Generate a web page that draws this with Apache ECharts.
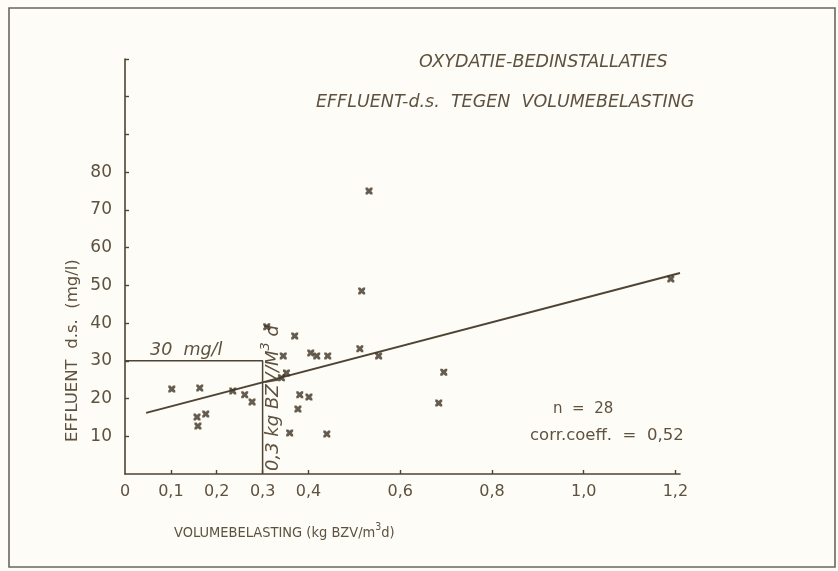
<!DOCTYPE html>
<html>
<head>
<meta charset="utf-8">
<script src="https://cdn.jsdelivr.net/npm/echarts@6/dist/echarts.min.js"></script>
<style>
  html, body { margin: 0; padding: 0; background: #fdfcf6; }
  #chart { width: 838px; height: 571px; }
</style>
</head>
<body>
<div id="chart"></div>
<script>
// Volumebelasting (kg BZV/m3 d) versus effluent d.s. (mg/l), 28 installations
const loadValues = [0.102, 0.163, 0.235, 0.261, 0.277, 0.157, 0.176, 0.159,
  0.370, 0.345, 0.405, 0.418, 0.442, 0.512, 0.553, 0.352, 0.341, 0.381,
  0.401, 0.377, 0.359, 0.440, 0.309, 0.532, 0.516, 0.695, 0.684, 1.190];
const effluentValues = [22.5, 22.8, 22.0, 21.0, 19.1, 15.1, 15.9, 12.7,
  36.6, 31.3, 32.1, 31.3, 31.3, 33.2, 31.3, 26.8, 25.5, 21.0,
  20.4, 17.2, 10.9, 10.6, 39.0, 75.0, 48.5, 27.0, 18.8, 51.7];

// regression line end points
const fitLine = [[0.046, 16.2], [1.21, 53.3]];
// 30 mg/l limit box up to 0,3 kg BZV/m3 d
const limitBox = [[0, 30], [0.3, 30], [0.3, 0]];

const xTickValues = [0, 0.1, 0.2, 0.3, 0.4, 0.6, 0.8, 1.0, 1.2];
const yTickValues = [10, 20, 30, 40, 50, 60, 70, 80, 90, 100, 110];
const yLabelValues = [10, 20, 30, 40, 50, 60, 70, 80];

const ink = '#4f4334';
const textInk = '#5e5140';
const font = 'DejaVu Sans';
const condensed = 'DejaVu Sans Condensed, DejaVu Sans';

const points = loadValues.map((x, i) => [x, effluentValues[i]]);

const chart = echarts.init(document.getElementById('chart'), null, { renderer: 'canvas' });

chart.setOption({
  backgroundColor: '#fdfcf6',
  animation: false,
  title: [
    {
      text: 'OXYDATIE-BEDINSTALLATIES',
      left: 414, top: 48,
      textStyle: { fontFamily: font, fontStyle: 'italic', fontWeight: 'normal', fontSize: 17.5, color: textInk }
    },
    {
      text: 'EFFLUENT-d.s.  TEGEN  VOLUMEBELASTING',
      left: 311, top: 88,
      textStyle: { fontFamily: font, fontStyle: 'italic', fontWeight: 'normal', fontSize: 17.5, color: textInk }
    }
  ],
  grid: { left: 125, right: 158, top: 59, bottom: 97 },
  xAxis: {
    type: 'value',
    min: 0, max: 1.21,
    axisLine: { show: true, lineStyle: { color: ink, width: 1.6 } },
    axisTick: { show: true, inside: true, length: 4, customValues: xTickValues.slice(1),
      lineStyle: { color: ink, width: 1.4 } },
    axisLabel: {
      customValues: xTickValues,
      margin: 10,
      fontFamily: font, fontSize: 16, color: textInk,
      formatter: v => (v === 0 ? '0' : v.toFixed(1).replace('.', ','))
    },
    splitLine: { show: false }
  },
  yAxis: {
    type: 'value',
    min: 0, max: 110,
    axisLine: { show: true, lineStyle: { color: ink, width: 1.6 } },
    axisTick: { show: true, inside: true, length: 4, customValues: yTickValues,
      lineStyle: { color: ink, width: 1.4 } },
    axisLabel: {
      customValues: yLabelValues,
      margin: 13,
      fontFamily: font, fontSize: 17, color: textInk
    },
    splitLine: { show: false }
  },
  graphic: [
    {
      type: 'rect',
      shape: { x: 9, y: 8, width: 826, height: 559 },
      style: { fill: null, stroke: '#6a6660', lineWidth: 1.6 },
      silent: true
    },
    {
      type: 'text', x: 64, y: 442, rotation: Math.PI / 2,
      style: { text: 'EFFLUENT  d.s.  (mg/l)', fontFamily: font, fontSize: 16.5, fill: textInk }
    },
    {
      type: 'text', left: 174, top: 522,
      style: {
        text: '{a|VOLUMEBELASTING (kg BZV/m}{s|3}{a|d)}',
        rich: {
          a: { fontFamily: condensed, fontSize: 14.5, fill: textInk, verticalAlign: 'bottom' },
          s: { fontFamily: condensed, fontSize: 10.5, fill: textInk, padding: [0, 0, 8, 0], verticalAlign: 'bottom' }
        }
      }
    },
    {
      type: 'text', left: 553, top: 402,
      style: { text: 'n  =  28', fontFamily: font, fontSize: 15, fill: textInk }
    },
    {
      type: 'text', left: 530, top: 427,
      style: { text: 'corr.coeff.  =  0,52', fontFamily: font, fontSize: 16.5, fill: textInk }
    },
    {
      type: 'text', left: 150, top: 341,
      style: { text: '30  mg/l', fontFamily: font, fontStyle: 'italic', fontSize: 17.5, fill: textInk }
    },
    {
      type: 'text', x: 259, y: 471, rotation: Math.PI / 2,
      style: {
        text: '{a|0,3 kg BZV/M}{s|3}{a| d}',
        rich: {
          a: { fontFamily: font, fontStyle: 'italic', fontSize: 18, fill: textInk, verticalAlign: 'bottom' },
          s: { fontFamily: font, fontStyle: 'italic', fontSize: 13, fill: textInk, padding: [0, 0, 10, 0], verticalAlign: 'bottom' }
        }
      }
    }
  ],
  series: [
    {
      type: 'line',
      data: limitBox,
      symbol: 'none',
      lineStyle: { color: ink, width: 1.5 },
      silent: true,
      z: 2
    },
    {
      type: 'line',
      data: fitLine,
      symbol: 'none',
      lineStyle: { color: ink, width: 2 },
      silent: true,
      z: 3
    },
    {
      type: 'scatter',
      data: points,
      symbol: 'path://M0,0L3,0L5,2L7,0L10,0L10,3L8,5L10,7L10,10L7,10L5,8L3,10L0,10L0,7L2,5L0,3Z',
      symbolSize: 7,
      itemStyle: { color: '#3f3326' },
      z: 4
    }
  ]
});
</script>
</body>
</html>
